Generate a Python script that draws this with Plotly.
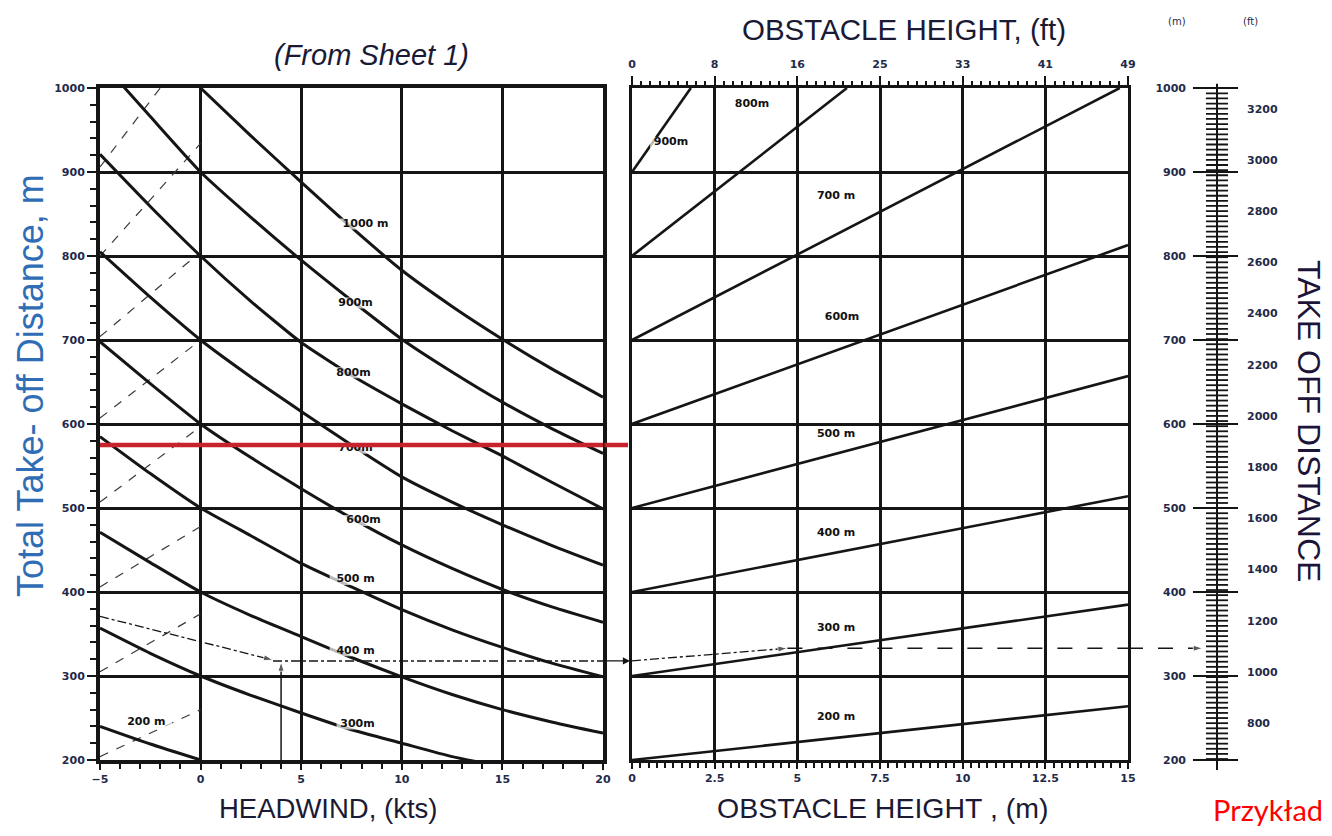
import plotly.graph_objects as go

# the page body keeps its default 8px margin, so the figure is sized to fit the window
OFF = 8
W, H = 1332 - OFF, 836 - 2 * OFF
FT = 0.3048

# ---------------- Left panel: headwind correction ----------------
WIND_KTS = [-5, -2.5, 0, 2.5, 5, 7.5, 10, 12.5, 15, 17.5, 20]
TOD_1000 = [None, None, 1000, 943, 888, 834, 783, 740, 701, 665, 632]
TOD_900 = [1033, 966, 900, 846, 795, 747, 701, 662, 626, 594, 565]
TOD_800 = [921, 859, 800, 746, 697, 658, 624, 592, 562, 530, 499]
TOD_700 = [805, 751, 700, 656, 615, 575, 537, 507, 480, 455, 432]
TOD_600 = [698, 648, 600, 560, 523, 488, 456, 428, 403, 382, 364]
TOD_500 = [585, 541, 500, 467, 434, 406, 379, 355, 334, 315, 299]
TOD_400 = [471, 435, 400, 372, 347, 322, 299, 278, 260, 245, 232]
TOD_300 = [357, 327, 300, 277, 256, 236, 220, 204, 192, None, None]
TOD_200 = [240, 219, 200, None, None, None, None, None, None, None, None]
LEFT_CURVES = [TOD_1000, TOD_900, TOD_800, TOD_700, TOD_600, TOD_500, TOD_400, TOD_300, TOD_200]

# tailwind guide lines (dashed), values at -5 kts and 0 kts
GUIDE_WIND = [-5, 0]
GUIDE_START = [204, 305, 406, 507, 607, 704, 800, 906]
GUIDE_END = [260, 374, 478, 597, 700, 805, 934, 1063]

LEFT_LABELS = ['1000 m', '900m', '800m', '700m', '600m', '500 m', '400 m', '300m', '200 m']
LEFT_LABEL_X = [8.2, 7.7, 7.6, 7.7, 8.1, 7.7, 7.7, 7.8, -2.7]
LEFT_LABEL_Y = [838, 744, 661, 571, 485, 415, 330, 243, 245]

# ---------------- Right panel: obstacle height correction ----------------
OBST_START_M = [200, 300, 400, 500, 600, 700, 800, 900]
OBST_END_X = [15, 15, 15, 15, 15, 14.75, 6.5, 1.78]
OBST_END_Y = [264, 385, 514, 657, 813, 1000, 1000, 1000]

RIGHT_LABELS = ['900m', '800m', '700 m', '600m', '500 m', '400 m', '300 m', '200 m']
RIGHT_LABEL_X = [1.18, 3.63, 6.17, 6.35, 6.17, 6.17, 6.17, 6.17]
RIGHT_LABEL_Y = [935, 981, 871, 727, 588, 470, 357, 251]

OBST_M_TICKS = [0, 2.5, 5, 7.5, 10, 12.5, 15]
OBST_M_TEXT = ['0', '2.5', '5', '7.5', '10', '12.5', '15']
OBST_FT_TEXT = ['0', '8', '16', '25', '33', '41', '49']

# ---------------- Worked example ----------------
EX_TAIL_X = [-5, 3.6]
EX_TAIL_Y = [371, 319]
EX_WIND = 4.0
EX_WIND_Y = [200, 317]
EX_LEVEL_X = [3.6, 20]
EX_LEVEL = 318
EX_OBST_X = [0, 4.7]
EX_OBST_Y = [318, 333]
EX_RESULT = 333
RED_LEVEL = 575

# ---------------- Take-off distance scale ----------------
SCALE_M = [200, 300, 400, 500, 600, 700, 800, 900, 1000]
SCALE_FT_LABELS = [800, 1000, 1200, 1400, 1600, 1800, 2000, 2200, 2400, 2600, 2800, 3000, 3200]
SCALE_FT_MINOR = list(range(660, 3281, 20))
SCALE_LINE_Y = [188, 1005]

INK = '#151515'
TICKC = '#1f2a4a'


def px(x):
    """window pixel -> paper fraction"""
    return (x - OFF) / W


def py(y):
    return 1 - (y - OFF) / H


fig = go.Figure()

# tailwind guide lines
for s, e in zip(GUIDE_START, GUIDE_END):
    fig.add_trace(go.Scatter(x=GUIDE_WIND, y=[s, e], mode='lines',
                             line=dict(color='#3a3a3a', width=1.2, dash='dash'),
                             xaxis='x', yaxis='y', hoverinfo='skip'))

# headwind curves
for c in LEFT_CURVES:
    fig.add_trace(go.Scatter(x=WIND_KTS, y=c, mode='lines',
                             line=dict(color=INK, width=3, shape='spline', smoothing=0.5),
                             xaxis='x', yaxis='y', hoverinfo='skip'))

# obstacle lines
for s, ex, ey in zip(OBST_START_M, OBST_END_X, OBST_END_Y):
    fig.add_trace(go.Scatter(x=[0, ex], y=[s, ey], mode='lines',
                             line=dict(color=INK, width=2.6),
                             xaxis='x2', yaxis='y2', hoverinfo='skip'))

# example path - left panel
arrow_end = dict(symbol='arrow', size=[0, 10], angleref='previous', color=INK)
fig.add_trace(go.Scatter(x=EX_TAIL_X, y=EX_TAIL_Y, mode='lines+markers',
                         line=dict(color=INK, width=1.3, dash='dashdot'),
                         marker=arrow_end, xaxis='x', yaxis='y', hoverinfo='skip'))
fig.add_trace(go.Scatter(x=[EX_WIND, EX_WIND], y=EX_WIND_Y, mode='lines+markers',
                         line=dict(color=INK, width=1.5),
                         marker=arrow_end, xaxis='x', yaxis='y', hoverinfo='skip'))
fig.add_trace(go.Scatter(x=EX_LEVEL_X, y=[EX_LEVEL, EX_LEVEL], mode='lines',
                         line=dict(color=INK, width=1.5, dash='dashdot'),
                         xaxis='x', yaxis='y', hoverinfo='skip'))
# example path - right panel
fig.add_trace(go.Scatter(x=EX_OBST_X, y=EX_OBST_Y, mode='lines+markers',
                         line=dict(color=INK, width=1.3, dash='dashdot'),
                         marker=arrow_end, xaxis='x2', yaxis='y2', hoverinfo='skip'))
fig.add_trace(go.Scatter(x=[EX_OBST_X[1], 15], y=[EX_RESULT, EX_RESULT], mode='lines',
                         line=dict(color=INK, width=1.5, dash='longdash'),
                         xaxis='x2', yaxis='y2', hoverinfo='skip'))

# scale: centre line, metre ticks, feet ticks
fig.add_trace(go.Scatter(x=[0, 0], y=SCALE_LINE_Y, mode='lines',
                         line=dict(color=INK, width=2), xaxis='x3', yaxis='y3', hoverinfo='skip'))
mx, my = [], []
for v in SCALE_M:
    mx += [-0.27, 0.236, None]
    my += [v, v, None]
fig.add_trace(go.Scatter(x=mx, y=my, mode='lines', line=dict(color=INK, width=2),
                         xaxis='x3', yaxis='y3', hoverinfo='skip'))
fx, fy = [], []
for f in SCALE_FT_MINOR:
    fx += [-0.124, 0.124, None]
    fy += [f * FT, f * FT, None]
fig.add_trace(go.Scatter(x=fx, y=fy, mode='lines', line=dict(color=INK, width=1.8),
                         xaxis='x3', yaxis='y3', hoverinfo='skip'))
# example path into the scale
fig.add_trace(go.Scatter(x=[-1, -0.16], y=[EX_RESULT, EX_RESULT], mode='lines+markers',
                         line=dict(color=INK, width=1.5, dash='longdash'),
                         marker=arrow_end, xaxis='x3', yaxis='y3', hoverinfo='skip'))

# curve labels (white backing bar + text)
lab_font = dict(family='DejaVu Sans', size=11, color='#111111', weight='bold')
fig.add_trace(go.Scatter(x=LEFT_LABEL_X, y=LEFT_LABEL_Y, mode='markers+text', text=LEFT_LABELS,
                         textposition='middle center', textfont=lab_font,
                         marker=dict(symbol='line-ew', size=[len(t) * 7 + 2 for t in LEFT_LABELS],
                                     color='white', line=dict(color='white', width=11)),
                         xaxis='x', yaxis='y', hoverinfo='skip'))
fig.add_trace(go.Scatter(x=RIGHT_LABEL_X, y=RIGHT_LABEL_Y, mode='markers+text', text=RIGHT_LABELS,
                         textposition='middle center', textfont=lab_font,
                         marker=dict(symbol='line-ew', size=[len(t) * 7 + 2 for t in RIGHT_LABELS],
                                     color='white', line=dict(color='white', width=11)),
                         xaxis='x2', yaxis='y2', hoverinfo='skip'))

# red highlight line
fig.add_trace(go.Scatter(x=[WIND_KTS[0], WIND_KTS[-1]], y=[RED_LEVEL, RED_LEVEL], mode='lines',
                         line=dict(color='#c8232c', width=4.5), xaxis='x', yaxis='y', hoverinfo='skip'))

# dummy traces so the overlaid axes get drawn
fig.add_trace(go.Scatter(x=[0, 15], y=[None, None], xaxis='x4', yaxis='y2', hoverinfo='skip'))
fig.add_trace(go.Scatter(x=[0, 0], y=[None, None], xaxis='x3', yaxis='y4', hoverinfo='skip'))

tick_font = dict(family='DejaVu Sans', size=11, color=TICKC, weight='bold')
ydom = [py(760), py(88)]

common_axis = dict(showline=True, linecolor=INK, mirror=True, zeroline=False,
                   showgrid=True, gridcolor=INK, tickfont=tick_font,
                   tickcolor=INK, fixedrange=True, automargin=False)

fig.update_layout(
    width=W, height=H,
    margin=dict(l=0, r=0, t=0, b=0, pad=0, autoexpand=False),
    paper_bgcolor='white', plot_bgcolor='white',
    showlegend=False,
    xaxis=dict(common_axis, domain=[px(100), px(603)], range=[-5, 20], anchor='y',
               tickvals=[-5, 0, 5, 10, 15, 20], ticks='outside', ticklen=6, tickwidth=2,
               linewidth=4, gridwidth=3,
               minor=dict(dtick=1, tick0=0, ticks='outside', ticklen=5, tickwidth=2,
                          tickcolor=INK, showgrid=False)),
    yaxis=dict(common_axis, domain=ydom, range=[200, 1000], anchor='x',
               tickvals=SCALE_M, ticks='outside', ticklen=9, tickwidth=2,
               linewidth=4, gridwidth=3,
               minor=dict(dtick=20, tick0=0, ticks='outside', ticklen=6, tickwidth=2,
                          tickcolor=INK, showgrid=False)),
    xaxis2=dict(common_axis, domain=[px(632), px(1128)], range=[0, 15], anchor='y2',
                tickvals=OBST_M_TICKS, ticktext=OBST_M_TEXT, ticks='outside', ticklen=6,
                tickwidth=2, linewidth=3, gridwidth=2.6,
                minor=dict(dtick=0.25, tick0=0, ticks='outside', ticklen=5, tickwidth=1.5,
                           tickcolor=INK, showgrid=False)),
    yaxis2=dict(common_axis, domain=ydom, range=[200, 1000], anchor='x2',
                tickvals=SCALE_M, showticklabels=False, ticks='',
                linewidth=3, gridwidth=2.6),
    xaxis4=dict(overlaying='x2', anchor='y2', side='top', range=[0, 15],
                tickvals=OBST_M_TICKS, ticktext=OBST_FT_TEXT, ticks='outside', ticklen=11,
                tickwidth=2, tickcolor=INK, tickfont=tick_font, showgrid=False,
                showline=False, zeroline=False, fixedrange=True, automargin=False,
                ticklabelstandoff=4,
                minor=dict(dtick=2.5 / 9, tick0=0, ticks='outside', ticklen=6, tickwidth=1.5,
                           tickcolor=INK, showgrid=False)),
    xaxis3=dict(domain=[px(1128), px(1306)], range=[-1, 1], anchor='y3', visible=False,
                fixedrange=True, automargin=False),
    yaxis3=dict(domain=[py(772.6), py(82.1)], range=[185, 1007], anchor='free',
                position=px(1188), side='left', tickvals=SCALE_M, ticks='',
                showline=False, showgrid=False, zeroline=False, tickfont=tick_font,
                ticklabelstandoff=2, fixedrange=True, automargin=False),
    yaxis4=dict(overlaying='y3', range=[185, 1007], anchor='free', position=px(1244),
                side='right', tickvals=[f * FT for f in SCALE_FT_LABELS],
                ticktext=[str(f) for f in SCALE_FT_LABELS], ticks='', showline=False,
                showgrid=False, zeroline=False, tickfont=tick_font, ticklabelstandoff=2,
                fixedrange=True, automargin=False),
)

title_font = dict(family='Liberation Sans', size=27, color='#1a1a35')
ann = [
    dict(text='(From Sheet 1)', x=px(371), y=py(55),
         font=dict(title_font, size=29, style='italic')),
    dict(text='OBSTACLE HEIGHT, (ft)', x=px(904), y=py(29), font=dict(title_font, size=29.5)),
    dict(text='HEADWIND, (kts)', x=px(328), y=py(808), font=dict(title_font, size=27.5)),
    dict(text='OBSTACLE HEIGHT , (m)', x=px(882), y=py(808), font=dict(title_font, size=28.5)),
    dict(text='Total Take- off Distance, m', x=px(30), y=py(386), textangle=-90,
         font=dict(family='Liberation Sans', size=36, color='#2f6db5')),
    dict(text='TAKE OFF DISTANCE', x=px(1309), y=py(421), textangle=90,
         font=dict(family='Liberation Sans', size=32, color='#1c1438')),
    dict(text='(m)', x=px(1177), y=py(21), font=dict(family='DejaVu Sans', size=10, color=TICKC)),
    dict(text='(ft)', x=px(1250), y=py(21), font=dict(family='DejaVu Sans', size=10, color=TICKC)),
]
annotations = []
for a in ann:
    a.update(xref='paper', yref='paper', showarrow=False, xanchor='center', yanchor='middle',
             borderpad=0)
    annotations.append(a)
annotations.append(dict(text='Przykład', xref='paper', yref='paper', x=px(1212), y=0,
                        xanchor='left', yanchor='bottom', showarrow=False, borderpad=0,
                        font=dict(family='Lato', size=29, color='#ff0000')))
# connectors across the gaps between panels
annotations.append(dict(text='', xref='x2', yref='y2', x=0, y=EX_LEVEL, ax=-29, ay=0,
                        showarrow=True, arrowhead=2, arrowsize=1.1, arrowwidth=1.3,
                        arrowcolor=INK, standoff=2))
annotations.append(dict(text='', xref='x2', yref='y2', x=0, y=RED_LEVEL, ax=-29, ay=0,
                        showarrow=True, arrowhead=0, arrowwidth=4.5, arrowcolor='#c8232c',
                        standoff=4))
fig.update_layout(annotations=annotations)

fig.write_html('out.html', config={'displayModeBar': False})
